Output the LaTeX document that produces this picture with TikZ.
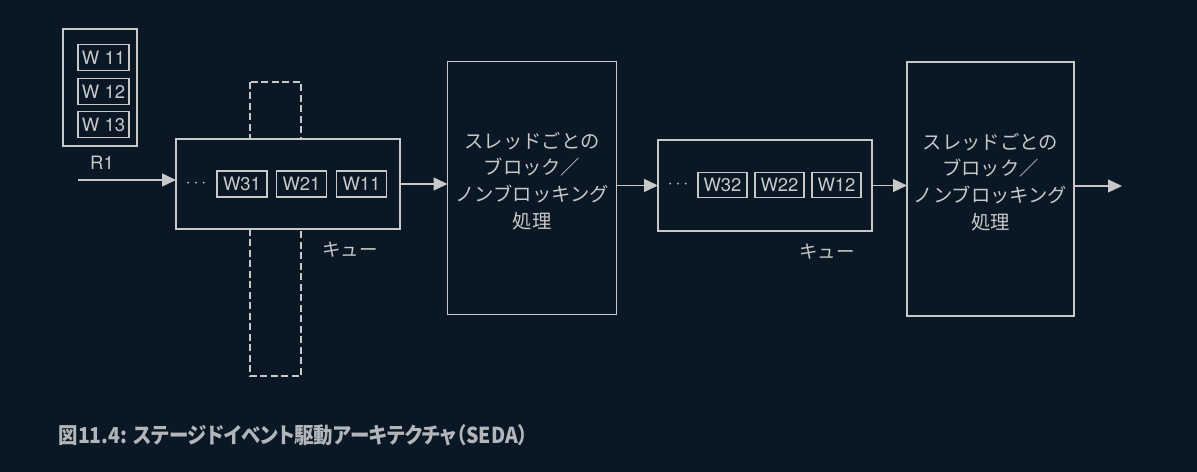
\documentclass[tikz,border=0pt]{standalone}
\usepackage{fontspec}
\usepackage{graphicx}
\setmainfont{TeX Gyre Heros}
\newfontfamily\jp{Noto Sans CJK JP}
\newfontfamily\jpcap[RawFeature=+palt]{Noto Sans CJK JP}
\usetikzlibrary{arrows.meta}
\definecolor{bg}{RGB}{10,23,37}
\definecolor{ln}{RGB}{200,200,200}
\definecolor{cap}{RGB}{178,182,186}
\begin{document}
\begin{tikzpicture}[x=0.02cm, y=-0.02cm, line width=0.7pt,
  box/.style={draw=ln, fill=bg, inner sep=0pt, outer sep=0pt},
  itm/.style={box, minimum width=1.0cm, minimum height=0.52cm, font=\fontsize{10.5}{12}\selectfont, text=ln},
  proc/.style={box, minimum width=3.38cm, minimum height=5.06cm},
  ptxt/.style={text=ln, align=center, inner sep=0pt, font=\jp\fontsize{11}{15.3}\selectfont},
  lbl/.style={text=ln, inner sep=0pt},
  arr/.style={draw=ln, -{Triangle[length=2.8mm, width=2.6mm]}}]

\fill[bg] (0,0) rectangle (1197,472);
\useasboundingbox (0,0) rectangle (1197,472);

% ---------- Left: request R1 ----------
\node[box, minimum width=1.48cm, minimum height=2.34cm] (r1) at (100,87.5) {};
\node[itm, minimum width=1.02cm] (r11) at (103.5,57.5) {W 11};
\node[itm, minimum width=1.02cm] (r12) at (103.5,91.5) {W 12};
\node[itm, minimum width=1.02cm] (r13) at (103.5,124.5) {W 13};
\node[lbl, font=\fontsize{10.5}{12}\selectfont] (r1l) at (102,163) {R1};
\coordinate (in) at (78,180);

% ---------- First stage ----------
\draw[ln, dash pattern=on 1.4mm off 0.7mm] (250,82) rectangle (301,376);
\node[box, minimum width=4.48cm, minimum height=1.80cm] (q1) at (288,184) {};
\node[lbl] (q1d) at (196,184) {$\cdots$};
\node[itm] (w31) at (242,184) {W31};
\node[itm] (w21) at (301.5,184) {W21};
\node[itm] (w11) at (361.5,184) {W11};
\node[lbl, font=\jp\fontsize{10.5}{12}\selectfont] (q1l) at (350,250) {キュー};
\node[proc, label={[ptxt, yshift=0.14cm]center:スレッドごとの\\ブロック／\\ノンブロッキング\\処理}] (p1) at (532,188) {};

% ---------- Second stage ----------
\node[box, minimum width=4.28cm, minimum height=1.82cm] (q2) at (765,185.5) {};
\node[lbl] (q2d) at (678,185) {$\cdots$};
\node[itm, minimum width=0.98cm, minimum height=0.5cm] (w32) at (722.5,185) {W32};
\node[itm, minimum width=0.98cm, minimum height=0.5cm] (w22) at (779.5,185) {W22};
\node[itm, minimum width=0.98cm, minimum height=0.5cm] (w12) at (836.5,185) {W12};
\node[lbl, font=\jp\fontsize{10.5}{12}\selectfont] (q2l) at (827,252) {キュー};
\node[proc, minimum width=3.34cm, minimum height=5.08cm,
  label={[ptxt, yshift=0.14cm]center:スレッドごとの\\ブロック／\\ノンブロッキング\\処理}] (p2) at (990.5,189) {};
\coordinate (out) at (1122,186);

% Arrows
\draw[arr] (in) -- (in -| q1.west);
\draw[arr] (q1.east) -- (q1.east -| p1.west);
\draw[arr] (q2.west -| p1.east) -- (q2.west);
\draw[arr] (q2.east) -- (q2.east -| p2.west);
\draw[arr] (out -| p2.east) -- (out);

% Caption
\node[anchor=west, inner sep=0pt, text=cap, font=\jpcap\bfseries\fontsize{12.5}{14}\selectfont] (cap) at (58,435)
  {\scalebox{0.885}[1]{図11.4: ステージドイベント駆動アーキテクチャ（SEDA）}};

\end{tikzpicture}
\end{document}
